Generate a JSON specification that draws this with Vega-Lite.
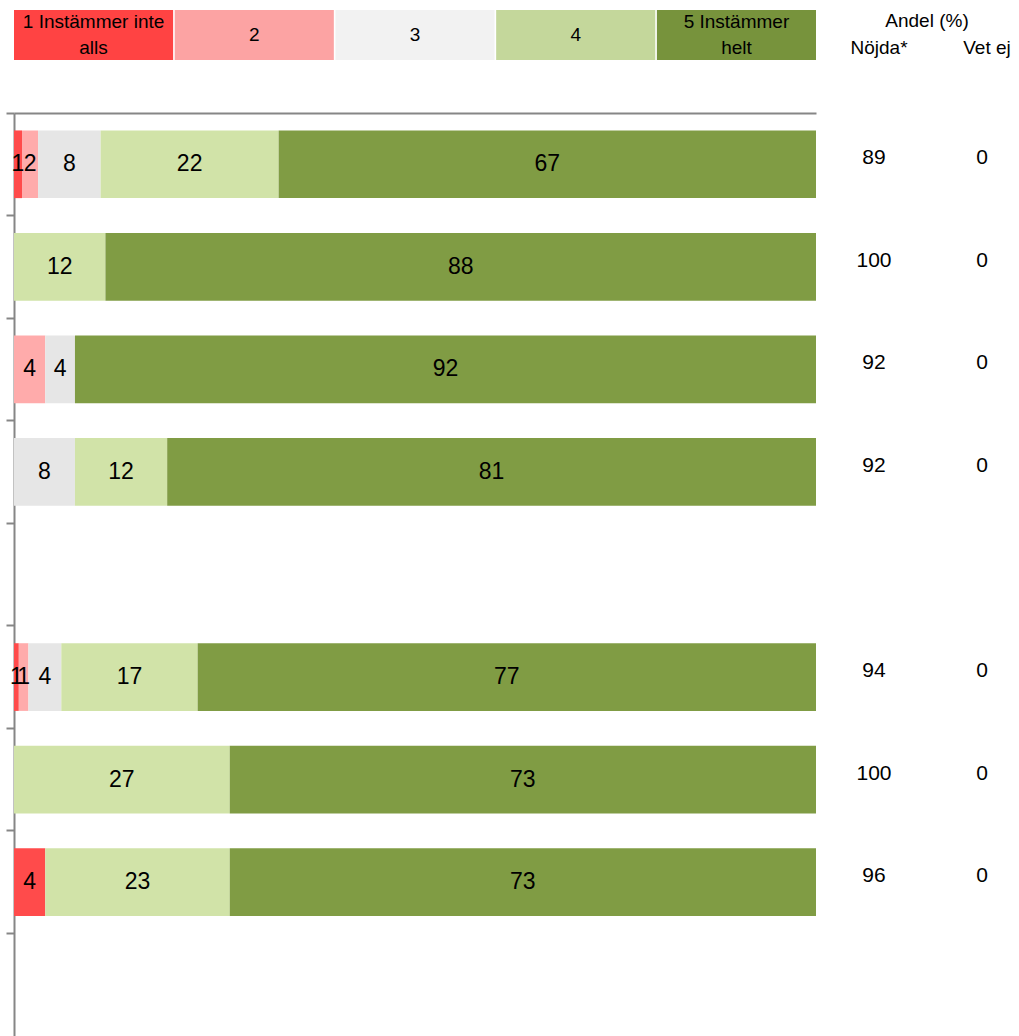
{
  "$schema": "https://vega.github.io/schema/vega-lite/v6.json",
  "background": "white",
  "padding": {"left": 5, "top": 10, "right": 0, "bottom": 0},
  "config": {"view": {"stroke": null}, "font": "Liberation Sans", "text": {"font": "Liberation Sans", "color": "#000000"}},
  "columns": 2,
  "spacing": {"row": 53, "column": 18},
  "bounds": "flush",
  "resolve": {"scale": {"color": "independent", "x": "independent", "y": "independent"}},
  "datasets": {
    "legend": [
      {"key": "1"}, {"key": "2"}, {"key": "3"}, {"key": "4"}, {"key": "5"}
    ],
    "legendtext": [
      {"key": "1", "line": "a", "t": "1 Instämmer inte"},
      {"key": "1", "line": "b", "t": "alls"},
      {"key": "2", "line": "m", "t": "2"},
      {"key": "3", "line": "m", "t": "3"},
      {"key": "4", "line": "m", "t": "4"},
      {"key": "5", "line": "a", "t": "5  Instämmer"},
      {"key": "5", "line": "b", "t": "helt"}
    ],
    "bars": [
      {"row": "r1", "cat": "1", "v": 1, "lbl": 1},
      {"row": "r1", "cat": "2", "v": 2, "lbl": 2},
      {"row": "r1", "cat": "3", "v": 7.8, "lbl": 8},
      {"row": "r1", "cat": "4", "v": 22.2, "lbl": 22},
      {"row": "r1", "cat": "5", "v": 67, "lbl": 67},
      {"row": "r2", "cat": "4", "v": 11.4, "lbl": 12},
      {"row": "r2", "cat": "5", "v": 88.6, "lbl": 88},
      {"row": "r3", "cat": "2", "v": 3.9, "lbl": 4},
      {"row": "r3", "cat": "3", "v": 3.7, "lbl": 4},
      {"row": "r3", "cat": "5", "v": 92.4, "lbl": 92},
      {"row": "r4", "cat": "3", "v": 7.6, "lbl": 8},
      {"row": "r4", "cat": "4", "v": 11.5, "lbl": 12},
      {"row": "r4", "cat": "5", "v": 80.9, "lbl": 81},
      {"row": "r6", "cat": "1", "v": 0.6, "lbl": 1},
      {"row": "r6", "cat": "2", "v": 1.2, "lbl": 1},
      {"row": "r6", "cat": "3", "v": 4.1, "lbl": 4},
      {"row": "r6", "cat": "4", "v": 17, "lbl": 17},
      {"row": "r6", "cat": "5", "v": 77.1, "lbl": 77},
      {"row": "r7", "cat": "4", "v": 26.9, "lbl": 27},
      {"row": "r7", "cat": "5", "v": 73.1, "lbl": 73},
      {"row": "r8", "cat": "1", "v": 3.9, "lbl": 4},
      {"row": "r8", "cat": "4", "v": 23, "lbl": 23},
      {"row": "r8", "cat": "5", "v": 73.1, "lbl": 73}
    ],
    "shares": [
      {"row": "r1", "col": "Nöjda", "v": 89}, {"row": "r1", "col": "Vet ej", "v": 0},
      {"row": "r2", "col": "Nöjda", "v": 100}, {"row": "r2", "col": "Vet ej", "v": 0},
      {"row": "r3", "col": "Nöjda", "v": 92}, {"row": "r3", "col": "Vet ej", "v": 0},
      {"row": "r4", "col": "Nöjda", "v": 92}, {"row": "r4", "col": "Vet ej", "v": 0},
      {"row": "r6", "col": "Nöjda", "v": 94}, {"row": "r6", "col": "Vet ej", "v": 0},
      {"row": "r7", "col": "Nöjda", "v": 100}, {"row": "r7", "col": "Vet ej", "v": 0},
      {"row": "r8", "col": "Nöjda", "v": 96}, {"row": "r8", "col": "Vet ej", "v": 0}
    ],
    "headcols": [
      {"line": "2", "col": "Nöjda", "t": "Nöjda*"},
      {"line": "2", "col": "Vet ej", "t": "Vet ej"}
    ],
    "headtop": [
      {"line": "1", "t": "Andel (%)"}
    ]
  },
  "concat": [
    {
      "width": 802,
      "height": 50,
      "layer": [
        {
          "data": {"name": "legend"},
          "mark": {"type": "rect"},
          "encoding": {
            "x": {"field": "key", "type": "nominal", "sort": null, "axis": null, "scale": {"domain": ["1", "2", "3", "4", "5"], "paddingInner": 0.01, "paddingOuter": 0}},
            "color": {"field": "key", "type": "nominal", "legend": null,
              "scale": {"domain": ["1", "2", "3", "4", "5"], "range": ["#FF4343", "#FCA3A3", "#F2F2F2", "#C4D79B", "#77933C"]}}
          }
        },
        {
          "data": {"name": "legendtext"},
          "mark": {"type": "text", "fontSize": 19, "baseline": "middle", "align": "center"},
          "encoding": {
            "x": {"field": "key", "type": "nominal", "sort": null, "axis": null},
            "y": {"field": "line", "type": "ordinal", "axis": null, "scale": {"type": "point", "domain": ["a", "m", "b"], "padding": 0.923, "align": 0.5}},
            "text": {"field": "t"}
          }
        }
      ]
    },
    {
      "width": 186,
      "height": 50,
      "layer": [
        {
          "data": {"name": "headtop"},
          "mark": {"type": "text", "fontSize": 19, "baseline": "middle", "align": "center"},
          "encoding": {
            "y": {"field": "line", "type": "ordinal", "axis": null, "scale": {"type": "point", "domain": ["1", "2"], "padding": 0.426, "align": 0.478}},
            "text": {"field": "t"}
          }
        },
        {
          "data": {"name": "headcols"},
          "mark": {"type": "text", "fontSize": 19, "baseline": "middle", "align": "center", "dx": 5},
          "encoding": {
            "y": {"field": "line", "type": "ordinal", "axis": null},
            "x": {"field": "col", "type": "nominal", "axis": null, "scale": {"type": "point", "domain": ["Nöjda", "Vet ej"], "padding": 0.3611, "align": 0.5128}},
            "text": {"field": "t"}
          }
        }
      ]
    },
    {
      "width": 802,
      "height": 923,
      "data": {"name": "bars"},
      "layer": [
        {
          "mark": {"type": "bar", "height": {"band": 0.66}},
          "encoding": {
            "y": {"field": "row", "type": "nominal", "title": null,
              "scale": {"domain": ["r1", "r2", "r3", "r4", "r5", "r6", "r7", "r8", "r9"], "paddingInner": 0, "paddingOuter": 0},
              "axis": {"labels": false, "ticks": true, "tickSize": 8, "tickWidth": 2, "tickColor": "#868686", "domainColor": "#868686", "domainWidth": 2, "bandPosition": 0, "grid": false, "title": null}},
            "x": {"field": "v", "type": "quantitative", "stack": "zero", "scale": {"domain": [0, 100], "nice": false},
              "axis": {"orient": "top", "labels": false, "ticks": false, "grid": false, "domainColor": "#868686", "domainWidth": 2, "title": null}},
            "color": {"field": "cat", "type": "nominal", "legend": null,
              "scale": {"domain": ["1", "2", "3", "4", "5"], "range": ["#FF4B4B", "#FFABAB", "#E6E6E6", "#D1E3A8", "#809C44"]}},
            "order": {"field": "cat", "type": "ordinal"}
          }
        },
        {
          "mark": {"type": "text", "fontSize": 23, "baseline": "middle", "align": "center"},
          "encoding": {
            "y": {"field": "row", "type": "nominal"},
            "x": {"field": "v", "type": "quantitative", "stack": "zero", "bandPosition": 0.5},
            "detail": {"field": "cat", "type": "nominal"},
            "order": {"field": "cat", "type": "ordinal"},
            "text": {"field": "lbl", "type": "quantitative"}
          }
        }
      ]
    },
    {
      "width": 186,
      "height": 923,
      "data": {"name": "shares"},
      "mark": {"type": "text", "fontSize": 21, "baseline": "middle", "align": "center", "dy": -6},
      "encoding": {
        "y": {"field": "row", "type": "nominal", "axis": null,
          "scale": {"domain": ["r1", "r2", "r3", "r4", "r5", "r6", "r7", "r8", "r9"], "paddingInner": 0, "paddingOuter": 0}},
        "x": {"field": "col", "type": "nominal", "axis": null, "scale": {"type": "point", "domain": ["Nöjda", "Vet ej"], "padding": 0.3611, "align": 0.5128}},
        "text": {"field": "v", "type": "quantitative"}
      }
    }
  ]
}
